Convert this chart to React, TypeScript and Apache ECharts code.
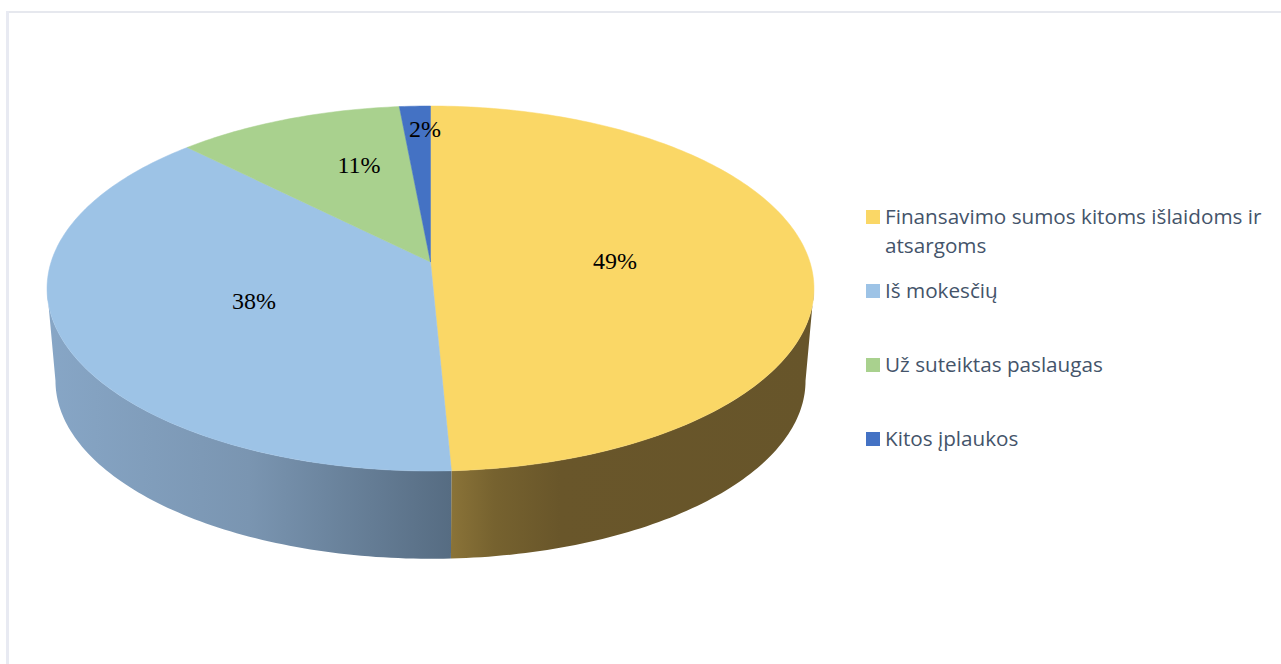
import React, { useEffect, useRef } from "react";
import * as echarts from "echarts";

const categories = [
  "Finansavimo sumos kitoms išlaidoms ir\natsargoms",
  "Iš mokesčių",
  "Už suteiktas paslaugas",
  "Kitos įplaukos",
];
const shares = [49.25, 38.25, 11, 1.5];
const topColors = ["#FAD766", "#9DC3E6", "#A9D18E", "#4472C4"];
const legendY = [216, 290, 364, 438];
const labelPos = [
  [615, 261],
  [254, 301],
  [359, 165],
  [425, 129],
];

// Perspective projection of the pie's disc
const CX = 430.5;
const TOP_Y = 262;
const BOTTOM_Y = 355;
const A = 379.4;
const K = 178.65;
const P = -0.1452;
const BOTTOM_SCALE_X = 0.978;
const BOTTOM_SCALE_Y = 0.975;
const FRONT_START = (Math.acos(P) * 180) / Math.PI;
const FRONT_END = 360 - FRONT_START;

function project(deg: number, bottom: boolean): number[] {
  const t = (deg * Math.PI) / 180;
  const u = Math.sin(t);
  const v = -Math.cos(t);
  const w = 1 + P * v;
  const sx = bottom ? BOTTOM_SCALE_X : 1;
  const sy = bottom ? BOTTOM_SCALE_Y : 1;
  return [CX + (A * sx * u) / w, (bottom ? BOTTOM_Y : TOP_Y) + (K * sy * v) / w];
}

function arc(from: number, to: number, bottom: boolean): number[][] {
  const n = Math.max(2, Math.ceil(Math.abs(to - from)));
  const pts: number[][] = [];
  for (let i = 0; i <= n; i++) pts.push(project(from + ((to - from) * i) / n, bottom));
  return pts;
}

function sliceRange(index: number): number[] {
  const total = shares.reduce((s, x) => s + x, 0);
  let before = 0;
  for (let i = 0; i < index; i++) before += shares[i];
  return [(before / total) * 360, ((before + shares[index]) / total) * 360];
}

const wallStops: Array<Array<{ offset: number; color: string }>> = [
  [
    { offset: 0, color: "#8A7338" },
    { offset: 0.12, color: "#76622F" },
    { offset: 0.3, color: "#69562A" },
    { offset: 1, color: "#67552A" },
  ],
  [
    { offset: 0, color: "#87A6C6" },
    { offset: 0.5, color: "#7A95B1" },
    { offset: 1, color: "#566C82" },
  ],
];

function renderTop(params: any) {
  const i = params.dataIndex;
  const [a, b] = sliceRange(i);
  const pts = [[CX, TOP_Y], ...arc(a, b, false)];
  return {
    type: "group",
    children: [
      {
        type: "polygon",
        shape: { points: pts },
        style: { fill: topColors[i], stroke: topColors[i], lineWidth: 0.5 },
      },
    ],
  };
}

function renderWall(params: any) {
  const i = params.dataIndex;
  const [a0, b0] = sliceRange(i);
  const a = Math.max(a0, FRONT_START);
  const b = Math.min(b0, FRONT_END);
  if (b <= a) return { type: "group", children: [] };
  const pts = [...arc(a, b, false), ...arc(b, a, true)];
  const xs = pts.map((p) => p[0]);
  const stops = wallStops[i];
  return {
    type: "polygon",
    shape: { points: pts },
    style: {
      fill: new echarts.graphic.LinearGradient(
        Math.min(...xs),
        0,
        Math.max(...xs),
        0,
        stops,
        true
      ),
    },
  };
}

function renderLabel(params: any, api: any) {
  const i = params.dataIndex;
  return {
    type: "text",
    style: {
      x: labelPos[i][0],
      y: labelPos[i][1],
      text: `${Math.round(api.value(0))}%`,
      font: '24px "Liberation Serif"',
      fill: "#000000",
      align: "center",
      verticalAlign: "middle",
    },
  };
}

export default function App() {
  const ref = useRef<HTMLDivElement>(null);
  useEffect(() => {
    document.body.style.margin = "0";
    const chart = echarts.init(ref.current!, null, { renderer: "svg" });
    const data = categories.map((c, i) => ({ name: c, value: shares[i] }));
    const legendGraphics: any[] = [];
    categories.forEach((c, i) => {
      legendGraphics.push({
        type: "rect",
        shape: { x: 866, y: legendY[i] - 6, width: 14, height: 14 },
        style: { fill: topColors[i] },
      });
      c.split("\n").forEach((line, j) => {
        legendGraphics.push({
          type: "text",
          style: {
            x: 885,
            y: legendY[i] + j * 29,
            text: line,
            font: '20.7px "Open Sans"',
            fill: "#44546A",
            align: "left",
            verticalAlign: "middle",
          },
        });
      });
    });
    chart.setOption({
      animation: false,
      backgroundColor: "#FFFFFF",
      graphic: [
        { type: "rect", shape: { x: 6, y: 11, width: 1275, height: 2 }, style: { fill: "#E6E8EE" } },
        { type: "rect", shape: { x: 6, y: 11, width: 3, height: 653 }, style: { fill: "#E8EAF2" } },
        ...legendGraphics,
      ],
      series: [
        { type: "custom", name: "walls", coordinateSystem: "none", z: 1, data, renderItem: renderWall },
        { type: "custom", name: "slices", coordinateSystem: "none", z: 2, data, renderItem: renderTop },
        { type: "custom", name: "labels", coordinateSystem: "none", z: 3, data, renderItem: renderLabel },
      ],
    });
    return () => chart.dispose();
  }, []);
  return (
    <div
      ref={ref}
      style={{ position: "absolute", left: 0, top: 0, width: 1281, height: 664 }}
    />
  );
}
